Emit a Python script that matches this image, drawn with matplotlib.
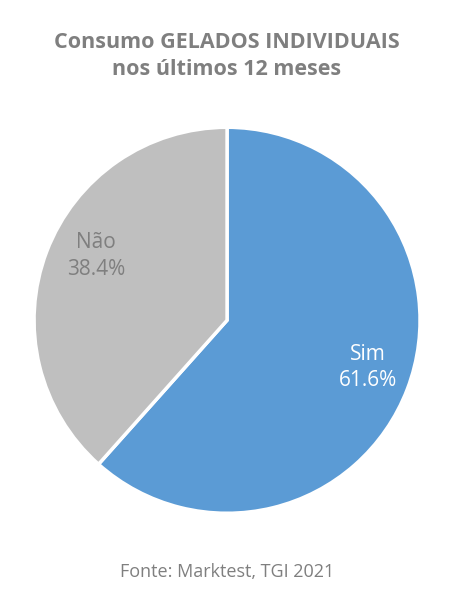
import matplotlib
matplotlib.use('Agg')
import matplotlib.pyplot as plt

plt.rcParams['font.family'] = ['Open Sans', 'DejaVu Sans']

categories = ['Sim', 'Não']
shares = [61.6, 38.4]
slice_colors = ['#5B9BD5', '#BFBFBF']
label_colors = ['white', '#7F7F7F']

title = 'Consumo GELADOS INDIVIDUAIS\nnos últimos 12 meses'
source = 'Fonte: Marktest, TGI 2021'

fig = plt.figure(figsize=(4.76, 5.92), dpi=100)
fig.patch.set_facecolor('white')

ax = fig.add_axes([0.0715, 0.133, 0.811, 0.652])
labels = [f'{c}\n{v:.1f}%' for c, v in zip(categories, shares)]
wedges, texts = ax.pie(shares, labels=labels, colors=slice_colors,
                       startangle=90, counterclock=False,
                       labeldistance=0.77,
                       wedgeprops=dict(edgecolor='white', linewidth=2.5),
                       textprops=dict(ha='center', va='center', fontsize=15,
                                      linespacing=1.35))
# small nudges so the labels sit where Excel put them
nudges = [(0.01, 0.03), (0.04, 0.06)]
for t, c, (dx, dy) in zip(texts, label_colors, nudges):
    t.set_color(c)
    x, y = t.get_position()
    t.set_position((x + dx, y + dy))
ax.set_xlim(-1, 1)
ax.set_ylim(-1, 1)
ax.set_aspect('equal')

fig.text(0.477, 0.905, title, ha='center', va='center', fontsize=15.5,
         fontweight='bold', color='#7F7F7F', linespacing=1.4)
fig.text(0.477, 0.034, source, ha='center', va='center', fontsize=13,
         color='#7F7F7F')

fig.savefig('out.png', dpi=100)
